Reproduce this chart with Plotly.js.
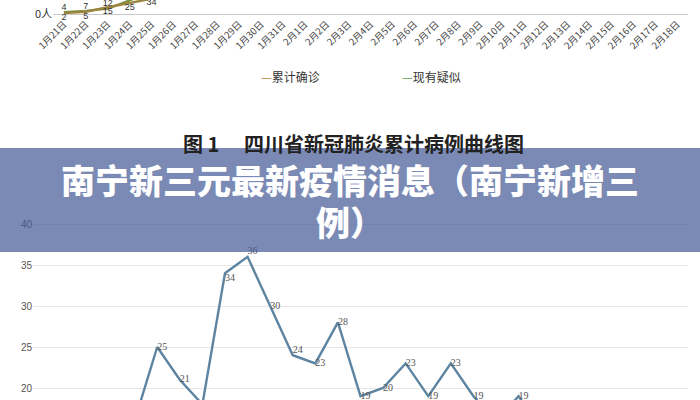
<!DOCTYPE html>
<html>
<head>
<meta charset="utf-8">
<script src="https://cdn.plot.ly/plotly-3.0.1.min.js"></script>
<style>html,body{margin:0;padding:0;background:#fff;}#chart{width:700px;height:400px;}</style>
</head>
<body>
<div id="chart"></div>
<script>
// ---- Top chart (图1 四川省新冠肺炎累计病例曲线图) ----
const dates = ['1月21日','1月22日','1月23日','1月24日','1月25日','1月26日','1月27日','1月28日','1月29日','1月30日','1月31日',
  '2月1日','2月2日','2月3日','2月4日','2月5日','2月6日','2月7日','2月8日','2月9日','2月10日','2月11日','2月12日',
  '2月13日','2月14日','2月15日','2月16日','2月17日','2月18日'];
const confirmed = [2, 5, 15, 25, 34, 69, 90, 108, 142, 177, 207, 231, 254, 282, 301, 321, 344, 363, 386, 405, 417, 436, 451, 463, 470, 481, 495, 508, 514];
const suspected = [4, 7, 12, 30, 52, 117, 158, 193, 226, 251, 287, 302, 318, 297, 331, 344, 326, 319, 295, 284, 262, 241, 219, 203, 184, 166, 151, 139, 128];
const seriesNames = ['累计确诊', '现有疑似'];

// ---- Bottom chart ----
const bottomValues = [10, 12, 9, 14, 16, 25, 21, 18, 34, 36, 30, 24, 23, 28, 19, 20, 23, 19, 23, 19, 16, 19, 15, 14, 12, 13, 11, 10, 9];
const bottomTicks = [20, 25, 30, 35, 40];

const bannerLine1 = '南宁新三元最新疫情消息（南宁新增三';
const bannerLine2 = '例）';
const figTitle = '图 1　 四川省新冠肺炎累计病例曲线图';

const idx = dates.map((d, i) => i);
const W = 700, H = 400;
const py = p => 1 - p / H;
const px = p => p / W;

// top y scale: 0 at y=14px, ~0.45 px per unit; domain covers 0..80 px
const topPpu = 0.45;
const topHi = 14 / topPpu;
const topLo = topHi - 80 / topPpu;
// bottom y scale: 40 at 224px, 20 at 388px, domain 200..400 px
const ppu = (388 - 224) / 20;
const botLo = 20 - (400 - 388) / ppu;
const botHi = 40 + (224 - 200) / ppu;

// labels only for points whose label falls inside the visible crop
const labelBelow = arr => arr.map(v => (v < topHi + 10 ? String(v) : ''));
const labelAbove = arr => arr.map(v => (v < 20 ? String(v) : ''));
const botLabel = arr => arr.map(v => (v >= botLo ? String(v) : ''));

const bottomPos = bottomValues.map(v => {
  if (v === 36 || v === 24) return 'top right';
  if (v === 34) return 'bottom right';
  return 'middle right';
});

const cjk = '"Noto Sans CJK SC", "Noto Sans", sans-serif';

const traces = [
  {
    x: idx, y: suspected, xaxis: 'x', yaxis: 'y', type: 'scatter', mode: 'lines+text',
    name: seriesNames[1], line: {color: '#7a8f3c', width: 2.4},
    text: labelAbove(suspected), textposition: 'top center',
    textfont: {family: 'Liberation Sans, sans-serif', size: 9, color: '#333'},
    hoverinfo: 'skip', showlegend: false
  },
  {
    x: idx, y: confirmed, xaxis: 'x', yaxis: 'y', type: 'scatter', mode: 'lines+text',
    name: seriesNames[0], line: {color: '#9c8540', width: 2.4},
    text: labelBelow(confirmed), textposition: 'bottom center',
    textfont: {family: 'Liberation Sans, sans-serif', size: 9, color: '#333'},
    hoverinfo: 'skip', showlegend: false
  },
  {
    x: idx, y: bottomValues, xaxis: 'x2', yaxis: 'y2', type: 'scatter', mode: 'lines+text',
    line: {color: '#5d84a0', width: 2.4},
    text: botLabel(bottomValues), textposition: bottomPos,
    textfont: {family: '"Liberation Serif", serif', size: 10, color: '#555'},
    hoverinfo: 'skip', showlegend: false
  }
];

const layout = {
  width: W, height: H,
  margin: {l: 0, r: 0, t: 0, b: 0},
  paper_bgcolor: '#fff', plot_bgcolor: 'rgba(0,0,0,0)',
  showlegend: false,
  xaxis: {
    domain: [px(53), px(688)], range: [-0.5, 28.5], anchor: 'free', position: py(16),
    tickvals: idx, ticktext: dates, tickangle: -45,
    tickfont: {family: cjk, size: 9.5, color: '#444'},
    showgrid: false, zeroline: false, showline: false, ticks: ''
  },
  yaxis: {
    domain: [py(80), 1], range: [topLo, topHi], anchor: 'x',
    tickvals: [0], ticktext: ['0人'], tickfont: {family: cjk, size: 11, color: '#333'},
    showgrid: false, zeroline: true, zerolinecolor: '#c8c8c8', zerolinewidth: 1, showline: false, ticks: ''
  },
  xaxis2: {
    domain: [px(33), px(688)], range: [-0.5, 28.5], anchor: 'y2',
    showticklabels: false, showgrid: false, zeroline: false, showline: false, ticks: ''
  },
  yaxis2: {
    domain: [0, py(200)], range: [botLo, botHi], anchor: 'x2',
    tickvals: bottomTicks, tickfont: {family: 'Liberation Sans, Arial, sans-serif', size: 10, color: '#555'},
    showgrid: true, gridcolor: '#e6e6e6', gridwidth: 1, zeroline: false, showline: false, ticks: ''
  },
  shapes: [
    {type: 'rect', xref: 'paper', yref: 'paper', x0: 0, x1: 1, y0: py(252), y1: py(148),
     fillcolor: 'rgba(66,89,148,0.70)', line: {width: 0}, layer: 'above'}
  ],
  annotations: [
    {xref: 'paper', yref: 'paper', x: px(290), y: py(66), showarrow: false,
     text: '<span style="color:#c0803c">—</span>' + seriesNames[0],
     font: {family: cjk, size: 12, color: '#333'}},
    {xref: 'paper', yref: 'paper', x: px(431), y: py(66), showarrow: false,
     text: '<span style="color:#5f9a4a">—</span>' + seriesNames[1],
     font: {family: cjk, size: 12, color: '#333'}},
    {xref: 'paper', yref: 'paper', x: px(353), y: py(127), showarrow: false,
     text: figTitle, font: {family: cjk, size: 20, color: '#222', weight: 'bold'}},
    {xref: 'paper', yref: 'paper', x: px(350.5), y: py(180), showarrow: false,
     text: bannerLine1, font: {family: cjk, size: 34, color: '#fff', weight: 900}},
    {xref: 'paper', yref: 'paper', x: px(350.5), y: py(221), showarrow: false,
     text: bannerLine2, font: {family: cjk, size: 34, color: '#fff', weight: 900}}
  ]
};

Plotly.newPlot('chart', traces, layout, {staticPlot: true, displayModeBar: false});
</script>
</body>
</html>
